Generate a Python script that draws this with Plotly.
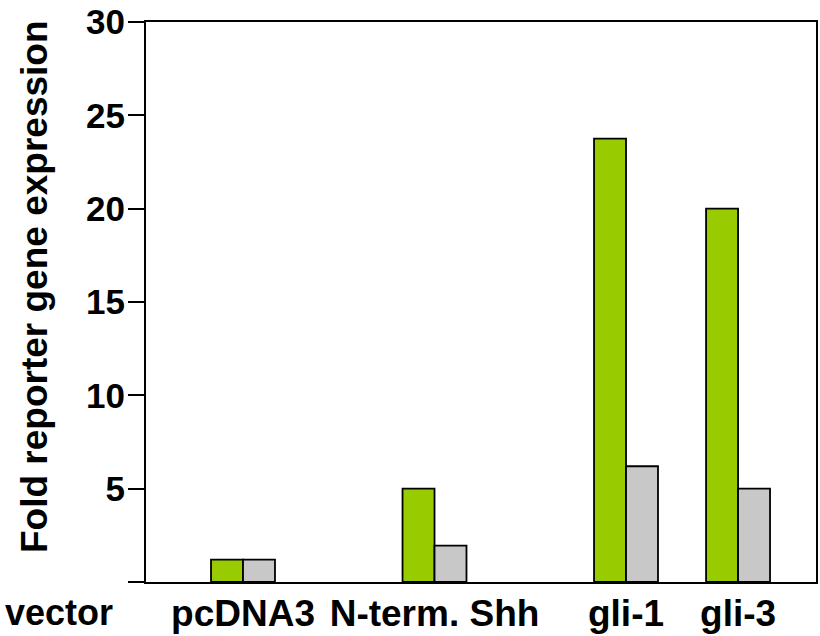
import plotly.graph_objects as go

categories = ["pcDNA3", "N-term. Shh", "gli-1", "gli-3"]
green_values = [1.2, 5.0, 23.75, 20.0]
gray_values = [1.2, 1.95, 6.2, 5.0]
y_ticks = [0, 5, 10, 15, 20, 25, 30]
y_ticktext = ["", "5", "10", "15", "20", "25", "30"]

# group centre positions on a numeric axis (uneven spacing as in the original)
positions = [1.0, 2.0, 3.0, 3.585]
bar_w = 0.167

FONT = "Liberation Sans, Arial, sans-serif"

fig = go.Figure()
fig.add_trace(go.Bar(
    x=positions, y=green_values, width=bar_w, offset=-bar_w,
    marker=dict(color="#99CC00", line=dict(color="black", width=1.8)),
    showlegend=False, hoverinfo="y",
))
fig.add_trace(go.Bar(
    x=positions, y=gray_values, width=bar_w, offset=0,
    marker=dict(color="#C8C8C8", line=dict(color="black", width=1.8)),
    showlegend=False, hoverinfo="y",
))

fig.update_layout(
    width=820, height=636,
    margin=dict(l=146, r=4, t=22, b=54, autoexpand=False),
    paper_bgcolor="white", plot_bgcolor="white",
    barmode="overlay",
    font=dict(family=FONT, size=35, color="black"),
    xaxis=dict(
        range=[0.4935, 3.992], automargin=False, tickangle=0,
        tickmode="array", tickvals=positions, ticktext=[f"<b>{c}</b>" for c in categories],
        ticks="", showgrid=False, zeroline=False,
        showline=True, linecolor="black", linewidth=2, mirror=True,
        tickfont=dict(family=FONT, size=37, color="black"),
        ticklabelstandoff=-2,
    ),
    yaxis=dict(
        range=[0, 30], automargin=False,
        tickmode="array", tickvals=y_ticks, ticktext=[f"<b>{t}</b>" for t in y_ticktext],
        ticks="outside", ticklen=16, tickwidth=2, tickcolor="black",
        showgrid=False, zeroline=False,
        showline=True, linecolor="black", linewidth=2, mirror=True,
        tickfont=dict(family=FONT, size=35, color="black"),
        ticklabelstandoff=-4,
    ),
    annotations=[
        dict(text="<b>Fold reporter gene expression</b>", textangle=-90,
             xref="paper", yref="paper", x=(34 - 146) / 670, y=(582 - 287) / 560,
             xanchor="center", yanchor="middle", showarrow=False,
             font=dict(family=FONT, size=37, color="black")),
        dict(text="<b>vector</b>",
             xref="paper", yref="paper", x=(59 - 146) / 670, y=(582 - 612) / 560,
             xanchor="center", yanchor="middle", showarrow=False,
             font=dict(family=FONT, size=36, color="black")),
    ],
)

fig.write_html("out.html", config={"displayModeBar": False},
               post_script="document.body.style.margin='0';")
